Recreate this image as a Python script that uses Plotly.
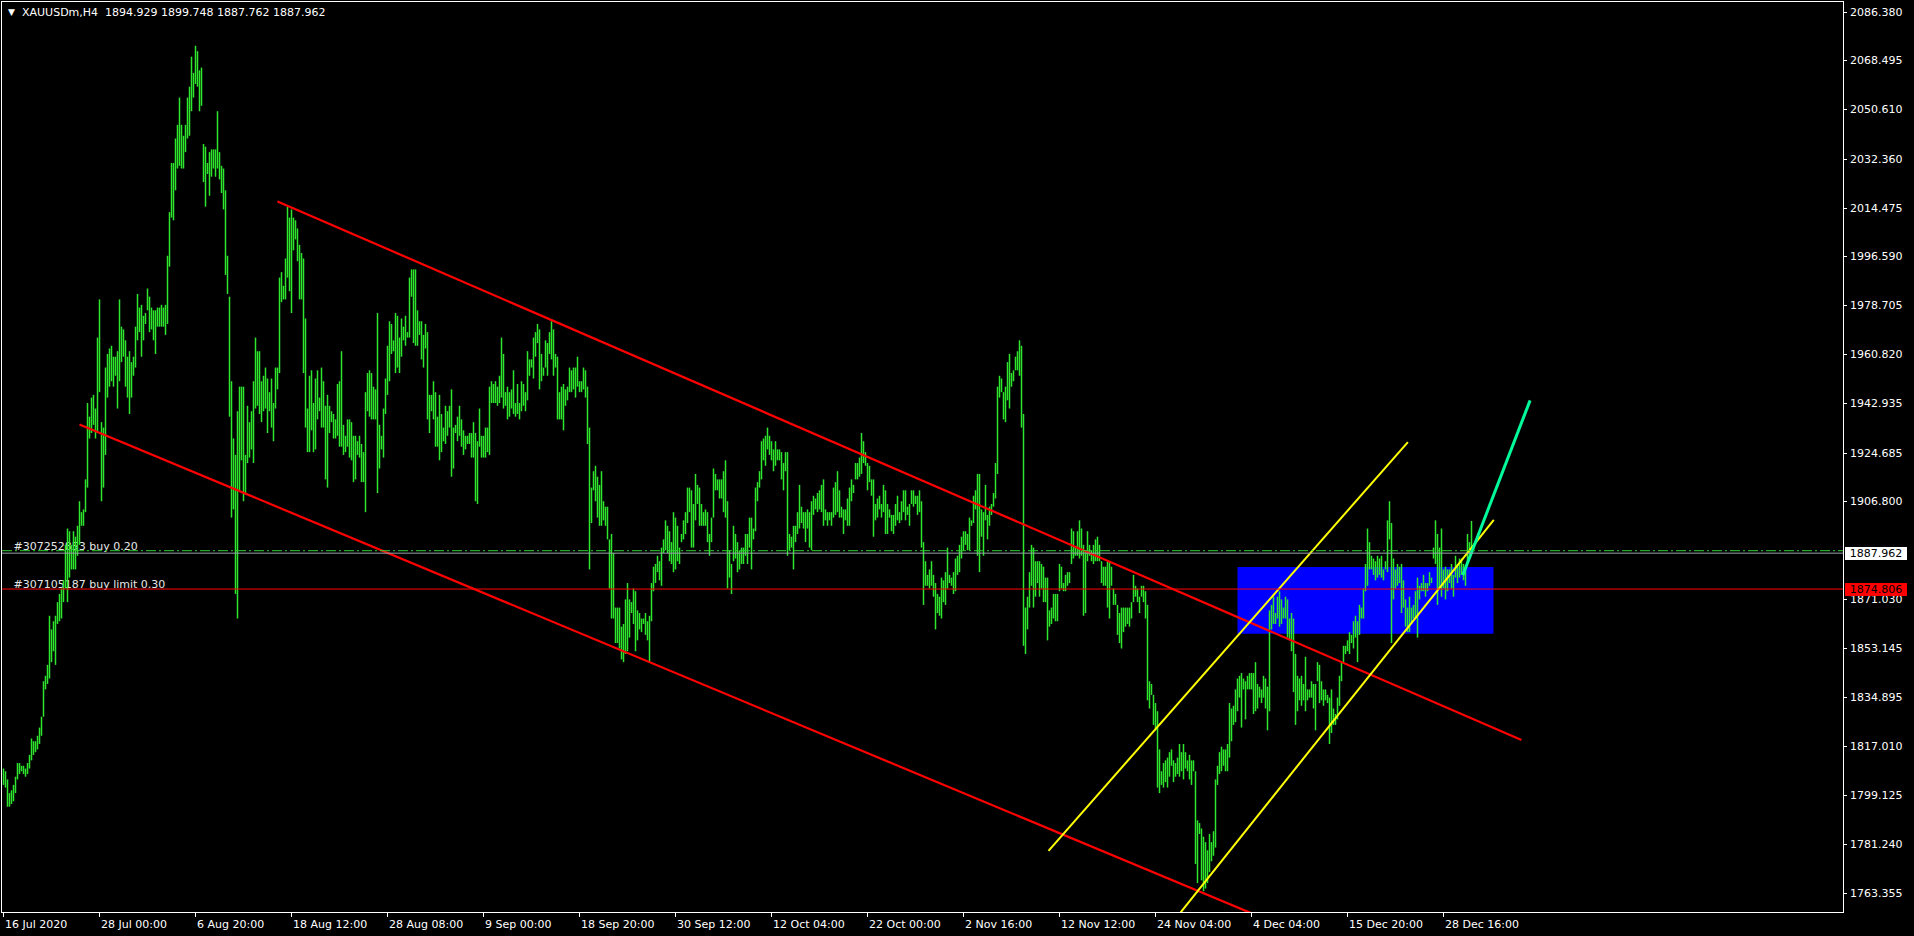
import plotly.graph_objects as go

# ---------------- data ----------------
symbol_title = "XAUUSDm,H4"
last_bar_ohlc = [1894.929, 1899.748, 1887.762, 1887.962]

bar_lows = [
    1803,1802,1795,1795,1796,1797,1800,1805,1807,1808,
    1807,1806,1807,1809,1812,1814,1815,1816,1818,1821,
    1828,1838,1840,1842,1848,1852,1847,1862,1863,1864,
    1870,1875,1870,1879,1882,1882,1882,1887,1891,1898,
    1898,1903,1912,1930,1932,1935,1930,1932,1947,1907,
    1912,1924,1945,1949,1951,1949,1953,1941,1951,1958,
    1960,1949,1945,1939,1945,1953,1956,1966,1969,1960,
    1966,1972,1977,1969,1970,1966,1961,1971,1971,1971,
    1971,1968,1972,1993,2011,2010,2021,2029,2030,2029,
    2029,2035,2040,2041,2050,2055,2060,2059,2050,2052,
    2024,2015,2027,2019,2026,2029,2026,2029,2025,2020,
    2014,1990,1983,1938,1901,1904,1873,1864,1911,1922,
    1907,1910,1921,1923,1926,1921,1941,1942,1939,1936,
    1940,1941,1932,1940,1934,1929,1941,1948,1954,1980,
    1981,1981,1989,1984,1976,1999,2003,1995,1981,
    1981,1954,1934,1925,1925,1933,1925,1926,1937,1940,
    1934,1934,1915,1912,1932,1936,1930,1930,1931,1927,
    1927,1924,1925,1927,1923,1922,1914,1915,1924,1923,
    1914,1914,1903,1940,1938,1937,1937,1937,1910,1919,
    1926,1923,1939,1946,1951,1961,1962,1954,1956,1954,
    1960,1966,1964,1967,1967,1982,1965,1964,1964,1968,
    1959,1956,1963,1937,1932,1940,1937,1927,1927,1922,
    1925,1929,1928,1931,1934,1916,1919,1932,1929,1931,
    1927,1924,1926,1928,1928,1923,1923,1907,1906,1927,
    1923,1923,1923,1925,1924,1943,1943,1943,1942,1943,
    1945,1941,1942,1937,1938,1941,1939,1938,1939,1937,
    1940,1942,1940,1944,1953,1956,1952,1960,1965,1948,
    1951,1953,1956,1953,1961,1959,1953,1956,1937,1937,
    1937,1933,1942,1944,1947,1947,1948,1945,1949,1947,
    1947,1948,1945,1928,1882,1899,1911,1907,
    1901,1898,1898,1900,1898,1893,1875,1864,1864,1855,
    1855,1853,1849,1848,1851,1852,1857,1866,1862,1852,
    1856,1860,1859,1862,1858,1856,1848,1863,1874,1877,
    1881,1878,1876,1888,1889,1888,1885,1884,1881,1882,
    1885,1884,1892,1893,1895,1899,1903,1890,1890,1900,
    1906,1898,1898,1898,1898,1892,1887,1892,1901,1911,
    1911,1908,1908,1903,1901,1875,1879,1873,1885,1886,
    1881,1882,1884,1884,1887,1884,1890,1882,1893,1896,
    1907,1912,1915,1922,1920,1926,1924,1922,1918,1920,
    1922,1922,1915,1911,1918,1887,1889,1890,1882,1892,
    1895,1897,1899,1897,1892,1897,1890,1889,1902,1904,
    1903,1904,1903,1898,1900,1898,1900,1898,1901,1902,
    1903,1901,1901,1895,1900,1898,1898,1907,1910,1915,
    1915,1916,1917,1921,1920,1911,1914,1909,1894,1900,
    1901,1904,1901,1903,1895,1895,1901,
    1896,1895,1898,1900,1899,1900,1903,1900,1902,1898,
    1906,1905,1906,1902,1903,1890,1869,1876,1876,1875,
    1876,1872,1860,1866,1865,1864,1870,1869,1875,1877,
    1876,1873,1874,1880,1881,1886,1889,1891,1889,1889,
    1898,1899,1904,1887,1881,1894,1887,1900,1893,1898,
    1902,1905,1908,1917,1945,1947,1937,1936,1944,1941,
    1949,1951,1955,1955,1953,1934,1854,1851,1860,1868,
    1876,1868,1872,1877,1872,1875,1870,1870,1856,1861,
    1862,1864,1863,1863,1874,1875,1874,1874,1876,1877,
    1884,1886,1887,1887,1886,1887,1865,1866,1885,1887,
    1885,1884,1885,1885,1885,1877,1876,1876,1868,1864,
    1876,1869,1869,1858,1855,1853,1859,1861,1862,1861,
    1864,1870,1872,1870,1866,1872,1870,1864,1834,1831,
    1836,1825,1823,1802,1800,1803,1802,1804,1802,1806,
    1810,1804,1806,1807,1806,1808,1805,1809,1808,
    1805,1803,1808,1774,1767,1785,1768,1764,1765,1767,
    1771,1775,1777,1780,1803,1807,1808,1810,1808,1808,
    1813,1819,1825,1826,1830,1835,1824,1838,1827,1838,
    1838,1838,1829,1830,1831,1835,1833,1835,1831,1823,
    1830,1860,1862,1862,1864,1861,1862,1864,1864,1857,
    1856,1852,1837,1825,1830,1834,1832,1834,1830,1834,
    1835,1835,1831,1823,1841,1833,1834,1832,1834,1833,
    1818,1822,1825,1825,1827,1832,1841,1848,1851,1852,
    1851,1855,1853,1857,1848,1858,1864,1864,1874,1876,
    1882,1882,1880,1878,1879,1880,1879,1878,1882,1881,
    1893,1855,1871,1875,1876,1877,1866,1868,1861,1859,
    1859,1862,1864,1864,1857,1871,1874,1874,1872,1874,
    1876,1877,1886,1884,1869,1875,1872,1875,1871,1874,
    1877,1875,1872,1879,1877,1879,1880,1878,1876,1884,
    1886,1887.762,
]

bar_highs = [
    1809,1808,1805,1800,1801,1803,1806,1811,1811,1810,
    1810,1809,1811,1814,1820,1819,1819,1821,1824,1828,
    1841,1843,1847,1865,1860,1863,1865,1870,1873,1875,
    1878,1891,1897,1896,1891,1896,1894,1898,1907,1903,
    1904,1915,1943,1938,1945,1946,1941,1967,1981,1936,
    1934,1956,1961,1963,1964,1960,1960,1962,1981,1971,
    1970,1966,1960,1962,1958,1960,1971,1983,1978,1979,
    1975,1976,1985,1982,1978,1977,1977,1978,1978,1979,
    1978,1979,1997,2013,2031,2031,2040,2045,2055,2045,
    2041,2045,2055,2059,2070,2064,2074,2072,2065,2066,
    2038,2037,2031,2035,2036,2036,2036,2050,2035,2030,
    2029,2021,1997,1982,1951,1930,1924,1940,1949,1949,
    1949,1924,1942,1936,1940,1951,1967,1962,1962,1951,
    1953,1956,1952,1947,1952,1943,1956,1956,1989,1991,
    1986,1996,2015,2011,2014,2011,2010,2007,2001,
    1998,1996,1974,1941,1953,1955,1943,1952,1955,1945,
    1956,1951,1942,1946,1942,1940,1939,1937,1950,1951,
    1962,1935,1931,1937,1937,1936,1931,1931,1929,1931,
    1928,1925,1947,1954,1955,1954,1949,1948,1976,1935,
    1931,1941,1952,1964,1973,1972,1966,1976,1975,1967,
    1974,1971,1975,1969,1989,1992,1992,1992,1977,1973,
    1973,1968,1972,1969,1946,1946,1951,1947,1938,1946,
    1939,1934,1942,1940,1942,1948,1934,1935,1938,1942,
    1937,1933,1931,1931,1932,1932,1936,1932,1929,1941,
    1931,1931,1934,1934,1949,1951,1950,1951,1949,1953,
    1967,1961,1947,1949,1947,1948,1955,1943,1950,1943,
    1951,1950,1947,1962,1959,1959,1967,1969,1972,1970,
    1961,1956,1966,1965,1969,1973,1970,1961,1960,1947,
    1949,1950,1948,1949,1956,1955,1956,1956,1960,1951,
    1951,1956,1955,1949,1934,1912,1918,1920,
    1916,1913,1918,1907,1905,1905,1893,1895,1888,1868,
    1868,1868,1861,1862,1871,1877,1871,1870,1875,1874,
    1867,1866,1864,1864,1866,1863,1865,1877,1883,1884,
    1887,1885,1890,1893,1900,1898,1896,1892,1903,1901,
    1898,1890,1895,1900,1903,1912,1912,1911,1906,1917,
    1913,1912,1906,1903,1904,1903,1895,1901,1919,1917,
    1915,1915,1915,1918,1922,1907,1889,1884,1898,1895,
    1892,1889,1890,1890,1895,1895,1901,1901,1897,1912,
    1914,1918,1929,1930,1931,1934,1931,1929,1926,1929,
    1926,1926,1925,1921,1925,1925,1895,1894,1898,1898,
    1903,1913,1905,1903,1903,1904,1903,1907,1909,1908,
    1910,1911,1913,1915,1904,1903,1903,1903,1912,1914,
    1918,1911,1905,1904,1904,1908,1912,1915,1913,1921,
    1921,1923,1932,1929,1925,1921,1920,1915,1915,1906,
    1908,1909,1906,1913,1911,1906,1904,
    1902,1902,1906,1909,1903,1907,1911,1911,1905,1906,
    1911,1911,1909,1909,1911,1907,1892,1885,1880,1882,
    1885,1880,1877,1873,1872,1879,1878,1881,1890,1880,
    1879,1881,1886,1887,1891,1894,1896,1896,1895,1901,
    1900,1909,1911,1917,1917,1904,1903,1913,1902,1905,
    1906,1910,1921,1949,1953,1952,1947,1949,1958,1961,
    1954,1955,1960,1962,1966,1964,1939,1868,1872,1881,
    1891,1890,1885,1885,1885,1884,1883,1879,1879,1867,
    1868,1873,1873,1873,1884,1883,1877,1880,1881,1881,
    1897,1896,1890,1896,1900,1897,1891,1889,1896,1891,
    1889,1891,1893,1894,1891,1885,1883,1883,1885,1885,
    1883,1875,1873,1869,1866,1868,1868,1868,1868,1868,
    1870,1880,1876,1875,1872,1876,1876,1874,1869,1841,
    1840,1836,1833,1830,1816,1808,1811,1812,1813,1815,
    1816,1812,1811,1813,1818,1815,1818,1815,1812,
    1814,1812,1812,1808,1790,1789,1787,1784,1782,1779,
    1785,1782,1786,1805,1810,1815,1817,1816,1816,1818,
    1833,1831,1832,1838,1842,1843,1844,1842,1841,1843,
    1844,1844,1844,1848,1840,1839,1838,1843,1842,1839,
    1867,1869,1872,1866,1872,1874,1871,1868,1872,1871,
    1864,1866,1864,1851,1843,1842,1843,1840,1850,1838,
    1838,1841,1840,1840,1848,1847,1841,1838,1838,1836,
    1835,1838,1831,1829,1835,1843,1848,1854,1854,1856,
    1859,1858,1863,1865,1863,1869,1868,1875,1884,1897,
    1892,1887,1886,1885,1887,1886,1887,1882,1885,1900,
    1907,1899,1886,1882,1884,1883,1884,1878,1871,1868,
    1872,1868,1869,1874,1879,1876,1877,1880,1877,1877,
    1881,1879,1890,1900,1895,1890,1897,1882,1883,1882,
    1882,1884,1880,1887,1884,1886,1886,1884,1882,1895,
    1892,1899.748,
]

time_tick_bars = [0, 48, 96, 144, 192, 240, 288, 336, 384, 432, 480, 528, 576, 624, 672, 720]
time_tick_labels = ["16 Jul 2020", "28 Jul 00:00", "6 Aug 20:00", "18 Aug 12:00", "28 Aug 08:00",
                    "9 Sep 00:00", "18 Sep 20:00", "30 Sep 12:00", "12 Oct 04:00", "22 Oct 00:00",
                    "2 Nov 16:00", "12 Nov 12:00", "24 Nov 04:00", "4 Dec 04:00", "15 Dec 20:00",
                    "28 Dec 16:00"]

price_tick_labels = ["2086.380", "2068.495", "2050.610", "2032.360", "2014.475", "1996.590",
                     "1978.705", "1960.820", "1942.935", "1924.685", "1906.800", "1871.030",
                     "1853.145", "1834.895", "1817.010", "1799.125", "1781.240", "1763.355"]

bid_price = 1887.962
buy_order_price = 1888.86
buy_limit_price = 1874.806
order_labels = ["#307252853 buy 0.20", "#307105187 buy limit 0.30"]

# drawn objects: anchor points (bar index, price)
red_upper_bars, red_upper_prices = [137, 759], [2016.93, 1819.45]
red_lower_bars, red_lower_prices = [38, 630], [1935.17, 1754.1]
yellow_upper_bars, yellow_upper_prices = [522.5, 702.2], [1778.83, 1928.68]
yellow_lower_bars, yellow_lower_prices = [587, 745.15], [1754.8, 1900.19]
arrow_bars, arrow_prices = [729.65, 763.3], [1879.91, 1943.97]
zone_bars, zone_prices = [617, 745], [1858.39, 1882.88]

# ---------------- figure ----------------
FONT = "DejaVu Sans"
BAR_COLOR = "#2ee62e"
ORDER_LINE_COLOR = "#32d232"

fig = go.Figure()

# order labels (drawn under the bars)
fig.add_trace(go.Scatter(
    x=[5.0, 5.0],
    y=[buy_order_price + 1.4, buy_limit_price + 1.4],
    text=order_labels, mode="text", textposition="middle right",
    textfont=dict(family=FONT, size=11, color="#e6e6e6"),
    hoverinfo="skip", showlegend=False,
))

# HL bars
bx, by = [], []
for i, (lo, hi) in enumerate(zip(bar_lows, bar_highs)):
    bx += [i, i, None]
    by += [lo, hi, None]
fig.add_trace(go.Scatter(x=bx, y=by, mode="lines", line=dict(color=BAR_COLOR, width=1.5, simplify=False),
                         hoverinfo="skip", showlegend=False, connectgaps=False))

# trend lines
for bars, prices, col, w in [
    (red_upper_bars, red_upper_prices, "#ff0000", 2.2),
    (red_lower_bars, red_lower_prices, "#ff0000", 2.2),
    (yellow_upper_bars, yellow_upper_prices, "#ffff00", 2),
    (yellow_lower_bars, yellow_lower_prices, "#ffff00", 2),
    (arrow_bars, arrow_prices, "#00fa9a", 3),
]:
    fig.add_trace(go.Scatter(x=bars, y=prices, mode="lines", line=dict(color=col, width=w),
                             hoverinfo="skip", showlegend=False))

shapes = [
    dict(type="rect", xref="x", yref="y", x0=zone_bars[0], x1=zone_bars[1],
         y0=zone_prices[0], y1=zone_prices[1], fillcolor="#0000ff", line=dict(width=0), layer="below"),
    dict(type="line", xref="paper", yref="y", x0=0, x1=1, y0=buy_limit_price, y1=buy_limit_price,
         line=dict(color="#ff0000", width=1), layer="above"),
    dict(type="line", xref="paper", yref="y", x0=0, x1=1, y0=bid_price, y1=bid_price,
         line=dict(color="#9aa3ad", width=1), layer="above"),
    dict(type="line", xref="paper", yref="y", x0=0, x1=1, y0=buy_order_price, y1=buy_order_price,
         line=dict(color=ORDER_LINE_COLOR, width=1, dash="10px,3px,2px,3px"), layer="above"),
]

annotations = []
for b, lab in zip(time_tick_bars, time_tick_labels):
    annotations.append(dict(x=b, xref="x", y=0, yref="paper", xanchor="left", yanchor="top",
                            yshift=-5, text=lab, showarrow=False, borderpad=0,
                            font=dict(family=FONT, size=11, color="#ffffff")))

for lab in price_tick_labels:
    annotations.append(dict(x=1, xref="paper", y=float(lab), yref="y", xanchor="left",
                            yanchor="middle", xshift=5, text=lab, showarrow=False, borderpad=1,
                            font=dict(family=FONT, size=11, color="#ffffff")))

header = symbol_title + "\u00a0\u00a0" + " ".join(f"{v:.3f}" for v in last_bar_ohlc)
annotations.append(dict(x=0, xref="paper", y=1, yref="paper", xanchor="left", yanchor="middle",
                        xshift=19, yshift=-10.5, text=header, showarrow=False, borderpad=0,
                        font=dict(family=FONT, size=11, color="#ffffff")))
annotations.append(dict(x=0, xref="paper", y=1, yref="paper", xanchor="center", yanchor="middle",
                        xshift=9, yshift=-10, text="\u25bc", showarrow=False, borderpad=0,
                        font=dict(family=FONT, size=9, color="#ffffff")))

for price, bg in [(bid_price, "#ffffff"), (buy_limit_price, "#ff0000")]:
    annotations.append(dict(x=1, xref="paper", y=price, yref="y", xanchor="left", yanchor="middle",
                            xshift=2, text=f"{price:.3f}", showarrow=False, bgcolor=bg,
                            borderpad=1, borderwidth=0, width=60, height=11,
                            font=dict(family=FONT, size=11, color="#000000")))

fig.update_layout(
    width=1914, height=936,
    margin=dict(l=2, r=71, t=2, b=24, pad=0),
    paper_bgcolor="#000000", plot_bgcolor="#000000",
    showlegend=False, hovermode=False,
    shapes=shapes, annotations=annotations,
    xaxis=dict(range=[-0.75, 919.75], showgrid=False, zeroline=False,
               showline=True, linecolor="#ffffff", linewidth=1, mirror=True,
               ticks="outside", ticklen=4, tickcolor="#ffffff", tickwidth=1,
               tickvals=time_tick_bars, showticklabels=False, fixedrange=True),
    yaxis=dict(range=[1756.389, 2090.047], side="right", showgrid=False, zeroline=False,
               showline=True, linecolor="#ffffff", linewidth=1, mirror=True,
               ticks="outside", ticklen=3, tickcolor="#ffffff", tickwidth=1,
               tickvals=[float(t) for t in price_tick_labels], showticklabels=False,
               fixedrange=True),
)

fig.write_html(
    "out.html",
    config={"displayModeBar": False},
    post_script="document.body.style.margin='0px';document.body.style.overflow='hidden';"
                "document.body.style.background='#000000';",
)
